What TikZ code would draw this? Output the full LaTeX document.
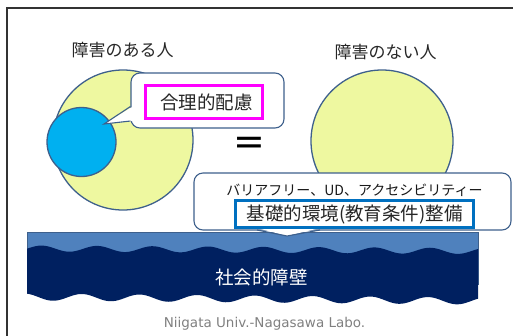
\documentclass[tikz,border=0pt]{standalone}
\usepackage{fontspec}
\newfontfamily\jp{Noto Sans CJK JP}
\newfontfamily\dv{DejaVu Sans}
\definecolor{yel}{RGB}{238,248,160}
\definecolor{cyanb}{RGB}{0,176,240}
\definecolor{edge}{RGB}{62,96,140}
\definecolor{band}{RGB}{79,129,189}
\definecolor{navy}{RGB}{0,32,96}
\definecolor{boxblue}{RGB}{0,112,192}
\definecolor{mag}{RGB}{255,0,255}
\definecolor{foot}{RGB}{128,128,128}
\tikzset{
  person/.style={circle, draw=edge, line width=1.3pt, inner sep=0pt},
  callout/.style={rectangle, rounded corners=9pt, draw=edge, fill=white, line width=1.1pt, inner sep=0pt},
  wedgeline/.style={draw=edge, line width=1.1pt, line join=miter},
  jplabel/.style={font=\jp\fontsize{17}{20}\selectfont, text=black!85, inner sep=0pt},
}
\begin{document}
\begin{tikzpicture}[x=1pt,y=-1pt]
\useasboundingbox (0,0) rectangle (513,335);
% frame
\draw[line width=2pt, black!80] (7,336) -- (7,8) -- (514,8);
% circles
\node[person, fill=yel, minimum size=140pt] (bigL) at (123,140) {};
\node[person, fill=cyanb, minimum size=69pt] (inner) at (81.5,142) {};
\node[person, fill=yel, minimum size=142pt] (bigR) at (382,141) {};
% labels
\node[jplabel] (labL) at (122.5,50) {障害のある人};
\node[jplabel] (labR) at (385.5,52) {障害のない人};
% equal sign
\node[font=\dv\fontsize{38}{40}\selectfont, inner sep=0pt] (eq) at (249.5,146) {=};
% social barrier band
\node[rectangle, fill=band, draw=edge, line width=0.8pt, minimum width=451pt, minimum height=52pt, inner sep=0pt] (band) at (252.5,258) {};
\fill[navy] plot[domain=27:478, samples=160] (\x, {248.5+0.00554*(\x-27) - 3*cos(6.4865*(\x-97))})
  -- plot[domain=478:27, samples=160] (\x, {297+0.00887*(\x-27) + 3.5*cos(6.2392*(\x-53))}) -- cycle;
\node[font=\jp\fontsize{18.5}{20}\selectfont, text=white, inner sep=0pt] (barrier) at (261.5,277) {社会的障壁};
% callout 1
\node[callout, minimum width=153pt, minimum height=55pt] (c1) at (207.5,100.5) {};
\coordinate (t1) at (104,124);
\fill[white] (133,106.5) -- (t1) -- (133,121) -- cycle;
\draw[wedgeline] (c1.west |- 0,106.5) -- (t1) -- (c1.west |- 0,121);
\node[rectangle, draw=mag, line width=3pt, minimum width=117pt, minimum height=33pt, inner sep=0pt] (mbox) at (204,102) {};
\node[font=\jp\fontsize{18.5}{20}\selectfont, text=black!85, inner sep=0pt] (gori) at (206.5,102) {合理的配慮};
% callout 2
\node[callout, minimum width=317pt, minimum height=57pt] (c2) at (352.5,201.5) {};
\coordinate (t2) at (287,236);
\fill[white] (257,228) -- (t2) -- (320,228) -- cycle;
\draw[wedgeline] (257,230) -- (t2) -- (320,230);
\node[font=\jp\fontsize{14}{16}\selectfont, text=black!90, inner sep=0pt] (bf) at (354.5,190) {バリアフリー、UD、アクセシビリティー};
\node[rectangle, draw=boxblue, fill=white, line width=3pt, minimum width=238pt, minimum height=27pt, inner sep=0pt] (bbox) at (354.5,214) {};
\node[font=\jp\fontsize{18.5}{20}\selectfont, text=black!85, inner sep=0pt] (kiso) at (354.5,214) {基礎的環境(教育条件)整備};
% footer
\node[font=\dv\fontsize{13.5}{15}\selectfont, text=foot, inner sep=0pt] (foot) at (264.5,324) {Niigata Univ.-Nagasawa Labo.};
\end{tikzpicture}
\end{document}
